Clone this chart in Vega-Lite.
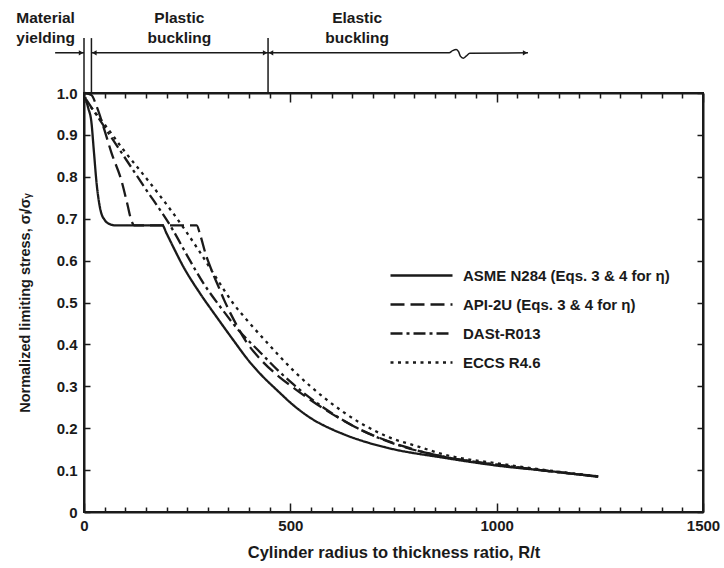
{
  "$schema": "https://vega.github.io/schema/vega-lite/v6.json",
  "width": 619,
  "height": 419,
  "autosize": {"type": "none"},
  "padding": {"left": 84, "top": 93, "right": 21, "bottom": 56},
  "background": "white",
  "config": {
    "view": {"stroke": "#1a1a1a", "strokeWidth": 2},
    "font": "Liberation Sans",
    "text": {"font": "Liberation Sans", "fontWeight": "bold", "fontSize": 15, "color": "#1a1a1a"}
  },
  "datasets": {
    "curves": [
      {"series": "ASME N284 (Eqs. 3 & 4 for η)", "rt": 3, "s": 0.99},
      {"series": "ASME N284 (Eqs. 3 & 4 for η)", "rt": 10, "s": 0.965},
      {"series": "ASME N284 (Eqs. 3 & 4 for η)", "rt": 18, "s": 0.93},
      {"series": "ASME N284 (Eqs. 3 & 4 for η)", "rt": 24, "s": 0.86},
      {"series": "ASME N284 (Eqs. 3 & 4 for η)", "rt": 31, "s": 0.78},
      {"series": "ASME N284 (Eqs. 3 & 4 for η)", "rt": 39, "s": 0.725},
      {"series": "ASME N284 (Eqs. 3 & 4 for η)", "rt": 50, "s": 0.697},
      {"series": "ASME N284 (Eqs. 3 & 4 for η)", "rt": 65, "s": 0.686},
      {"series": "ASME N284 (Eqs. 3 & 4 for η)", "rt": 75, "s": 0.684},
      {"series": "ASME N284 (Eqs. 3 & 4 for η)", "rt": 190, "s": 0.684},
      {"series": "ASME N284 (Eqs. 3 & 4 for η)", "rt": 200, "s": 0.665},
      {"series": "ASME N284 (Eqs. 3 & 4 for η)", "rt": 215, "s": 0.635},
      {"series": "ASME N284 (Eqs. 3 & 4 for η)", "rt": 241, "s": 0.585},
      {"series": "ASME N284 (Eqs. 3 & 4 for η)", "rt": 281, "s": 0.522},
      {"series": "ASME N284 (Eqs. 3 & 4 for η)", "rt": 321, "s": 0.466},
      {"series": "ASME N284 (Eqs. 3 & 4 for η)", "rt": 362, "s": 0.41},
      {"series": "ASME N284 (Eqs. 3 & 4 for η)", "rt": 400, "s": 0.36},
      {"series": "ASME N284 (Eqs. 3 & 4 for η)", "rt": 424, "s": 0.333},
      {"series": "ASME N284 (Eqs. 3 & 4 for η)", "rt": 475, "s": 0.284},
      {"series": "ASME N284 (Eqs. 3 & 4 for η)", "rt": 499, "s": 0.262},
      {"series": "ASME N284 (Eqs. 3 & 4 for η)", "rt": 548, "s": 0.225},
      {"series": "ASME N284 (Eqs. 3 & 4 for η)", "rt": 604, "s": 0.196},
      {"series": "ASME N284 (Eqs. 3 & 4 for η)", "rt": 628, "s": 0.186},
      {"series": "ASME N284 (Eqs. 3 & 4 for η)", "rt": 690, "s": 0.165},
      {"series": "ASME N284 (Eqs. 3 & 4 for η)", "rt": 749, "s": 0.15},
      {"series": "ASME N284 (Eqs. 3 & 4 for η)", "rt": 862, "s": 0.131},
      {"series": "ASME N284 (Eqs. 3 & 4 for η)", "rt": 1024, "s": 0.108},
      {"series": "ASME N284 (Eqs. 3 & 4 for η)", "rt": 1105, "s": 0.1},
      {"series": "ASME N284 (Eqs. 3 & 4 for η)", "rt": 1246, "s": 0.084},

      {"series": "API-2U (Eqs. 3 & 4 for η)", "rt": 3, "s": 1.0},
      {"series": "API-2U (Eqs. 3 & 4 for η)", "rt": 18, "s": 0.995},
      {"series": "API-2U (Eqs. 3 & 4 for η)", "rt": 31, "s": 0.967},
      {"series": "API-2U (Eqs. 3 & 4 for η)", "rt": 50, "s": 0.91},
      {"series": "API-2U (Eqs. 3 & 4 for η)", "rt": 67, "s": 0.856},
      {"series": "API-2U (Eqs. 3 & 4 for η)", "rt": 91, "s": 0.79},
      {"series": "API-2U (Eqs. 3 & 4 for η)", "rt": 105, "s": 0.735},
      {"series": "API-2U (Eqs. 3 & 4 for η)", "rt": 115, "s": 0.695},
      {"series": "API-2U (Eqs. 3 & 4 for η)", "rt": 122, "s": 0.684},
      {"series": "API-2U (Eqs. 3 & 4 for η)", "rt": 273, "s": 0.684},
      {"series": "API-2U (Eqs. 3 & 4 for η)", "rt": 282, "s": 0.66},
      {"series": "API-2U (Eqs. 3 & 4 for η)", "rt": 295, "s": 0.615},
      {"series": "API-2U (Eqs. 3 & 4 for η)", "rt": 310, "s": 0.575},
      {"series": "API-2U (Eqs. 3 & 4 for η)", "rt": 325, "s": 0.54},
      {"series": "API-2U (Eqs. 3 & 4 for η)", "rt": 340, "s": 0.505},
      {"series": "API-2U (Eqs. 3 & 4 for η)", "rt": 365, "s": 0.455},
      {"series": "API-2U (Eqs. 3 & 4 for η)", "rt": 394, "s": 0.405},
      {"series": "API-2U (Eqs. 3 & 4 for η)", "rt": 430, "s": 0.362},
      {"series": "API-2U (Eqs. 3 & 4 for η)", "rt": 470, "s": 0.325},
      {"series": "API-2U (Eqs. 3 & 4 for η)", "rt": 507, "s": 0.297},
      {"series": "API-2U (Eqs. 3 & 4 for η)", "rt": 588, "s": 0.242},
      {"series": "API-2U (Eqs. 3 & 4 for η)", "rt": 669, "s": 0.197},
      {"series": "API-2U (Eqs. 3 & 4 for η)", "rt": 773, "s": 0.157},
      {"series": "API-2U (Eqs. 3 & 4 for η)", "rt": 862, "s": 0.134},
      {"series": "API-2U (Eqs. 3 & 4 for η)", "rt": 1024, "s": 0.11},
      {"series": "API-2U (Eqs. 3 & 4 for η)", "rt": 1246, "s": 0.085},

      {"series": "DASt-R013", "rt": 5, "s": 0.985},
      {"series": "DASt-R013", "rt": 63, "s": 0.899},
      {"series": "DASt-R013", "rt": 144, "s": 0.779},
      {"series": "DASt-R013", "rt": 216, "s": 0.672},
      {"series": "DASt-R013", "rt": 250, "s": 0.612},
      {"series": "DASt-R013", "rt": 290, "s": 0.545},
      {"series": "DASt-R013", "rt": 330, "s": 0.49},
      {"series": "DASt-R013", "rt": 378, "s": 0.43},
      {"series": "DASt-R013", "rt": 426, "s": 0.382},
      {"series": "DASt-R013", "rt": 470, "s": 0.338},
      {"series": "DASt-R013", "rt": 507, "s": 0.305},
      {"series": "DASt-R013", "rt": 588, "s": 0.244},
      {"series": "DASt-R013", "rt": 669, "s": 0.197},
      {"series": "DASt-R013", "rt": 773, "s": 0.156},
      {"series": "DASt-R013", "rt": 862, "s": 0.134},
      {"series": "DASt-R013", "rt": 1024, "s": 0.11},
      {"series": "DASt-R013", "rt": 1246, "s": 0.085},

      {"series": "ECCS R4.6", "rt": 5, "s": 0.98},
      {"series": "ECCS R4.6", "rt": 50, "s": 0.925},
      {"series": "ECCS R4.6", "rt": 95, "s": 0.865},
      {"series": "ECCS R4.6", "rt": 140, "s": 0.81},
      {"series": "ECCS R4.6", "rt": 184, "s": 0.755},
      {"series": "ECCS R4.6", "rt": 240, "s": 0.68},
      {"series": "ECCS R4.6", "rt": 281, "s": 0.62},
      {"series": "ECCS R4.6", "rt": 321, "s": 0.558},
      {"series": "ECCS R4.6", "rt": 360, "s": 0.5},
      {"series": "ECCS R4.6", "rt": 402, "s": 0.45},
      {"series": "ECCS R4.6", "rt": 443, "s": 0.405},
      {"series": "ECCS R4.6", "rt": 507, "s": 0.338},
      {"series": "ECCS R4.6", "rt": 588, "s": 0.268},
      {"series": "ECCS R4.6", "rt": 669, "s": 0.213},
      {"series": "ECCS R4.6", "rt": 740, "s": 0.178},
      {"series": "ECCS R4.6", "rt": 814, "s": 0.155},
      {"series": "ECCS R4.6", "rt": 862, "s": 0.14},
      {"series": "ECCS R4.6", "rt": 1024, "s": 0.113},
      {"series": "ECCS R4.6", "rt": 1246, "s": 0.085}
    ],
    "bounds": [
      {"rt": 0, "s": 1.0, "s2": 1.131},
      {"rt": 18, "s": 1.0, "s2": 1.131},
      {"rt": 446, "s": 1.0, "s2": 1.131}
    ],
    "arrows": [
      {"seg": "m", "rt": -70, "s": 1.096},
      {"seg": "m", "rt": 0, "s": 1.096},
      {"seg": "p", "rt": 18, "s": 1.096},
      {"seg": "p", "rt": 446, "s": 1.096},
      {"seg": "e", "rt": 446, "s": 1.096},
      {"seg": "e", "rt": 885, "s": 1.096},
      {"seg": "e", "rt": 893, "s": 1.101},
      {"seg": "e", "rt": 902, "s": 1.104},
      {"seg": "e", "rt": 908, "s": 1.098},
      {"seg": "e", "rt": 912, "s": 1.088},
      {"seg": "e", "rt": 919, "s": 1.083},
      {"seg": "e", "rt": 926, "s": 1.088},
      {"seg": "e", "rt": 935, "s": 1.095},
      {"seg": "e", "rt": 1076, "s": 1.096}
    ],
    "heads": [
      {"dir": "R", "rt": -7, "s": 1.096},
      {"dir": "L", "rt": 25, "s": 1.096},
      {"dir": "R", "rt": 439, "s": 1.096},
      {"dir": "L", "rt": 453, "s": 1.096},
      {"dir": "R", "rt": 1069, "s": 1.096}
    ],
    "labelsRight": [
      {"rt": -22, "s": 1.179, "t": "Material"},
      {"rt": -22, "s": 1.131, "t": "yielding"}
    ],
    "labelsCenter": [
      {"rt": 231, "s": 1.179, "t": "Plastic"},
      {"rt": 231, "s": 1.131, "t": "buckling"},
      {"rt": 662, "s": 1.179, "t": "Elastic"},
      {"rt": 662, "s": 1.131, "t": "buckling"}
    ]
  },
  "layer": [
    {
      "data": {"name": "curves"},
      "mark": {"type": "line", "color": "#1a1a1a", "strokeWidth": 2.3, "interpolate": "monotone"},
      "encoding": {
        "x": {
          "field": "rt", "type": "quantitative",
          "scale": {"domain": [0, 1500], "nice": false, "zero": false},
          "axis": {
            "orient": "bottom",
            "values": [0,50,100,150,200,250,300,350,400,450,500,550,600,650,700,750,800,850,900,950,1000,1050,1100,1150,1200,1250,1300,1350,1400,1450,1500],
            "tickSize": {"condition": {"test": "datum.value % 500 === 0", "value": -9}, "value": -5},
            "tickColor": "#1a1a1a", "tickWidth": 1.5,
            "domainColor": "#1a1a1a", "domainWidth": 2,
            "grid": false,
            "labelExpr": "datum.value % 500 === 0 ? format(datum.value, 'd') : ''",
            "labelOverlap": false, "labelFlush": false,
            "labelFont": "Liberation Sans", "labelFontWeight": "bold", "labelFontSize": 15, "labelColor": "#1a1a1a",
            "labelPadding": 15,
            "title": "Cylinder radius to thickness ratio, R/t",
            "titleFont": "Liberation Sans", "titleFontWeight": "bold", "titleFontSize": 16.5, "titleColor": "#1a1a1a",
            "titlePadding": 7
          }
        },
        "y": {
          "field": "s", "type": "quantitative",
          "scale": {"domain": [0, 1], "nice": false},
          "axis": {
            "orient": "left",
            "values": [0,0.1,0.2,0.3,0.4,0.5,0.6,0.7,0.8,0.9,1.0],
            "tickSize": -6, "tickColor": "#1a1a1a", "tickWidth": 1.5,
            "domainColor": "#1a1a1a", "domainWidth": 2,
            "grid": false,
            "labelExpr": "datum.value === 0 ? '0' : format(datum.value, '.1f')",
            "labelFont": "Liberation Sans", "labelFontWeight": "bold", "labelFontSize": 15, "labelColor": "#1a1a1a",
            "labelPadding": 13,
            "title": "Normalized limiting stress, σₗ/σᵧ",
            "titleFont": "Liberation Sans", "titleFontWeight": "bold", "titleFontSize": 14.5, "titleColor": "#1a1a1a",
            "titlePadding": 24
          }
        },
        "strokeDash": {
          "field": "series", "type": "nominal",
          "scale": {
            "domain": ["ASME N284 (Eqs. 3 & 4 for η)", "API-2U (Eqs. 3 & 4 for η)", "DASt-R013", "ECCS R4.6"],
            "range": [[1, 0], [14, 6], [12, 4, 3, 4], [3, 4.5]]
          },
          "legend": {
            "orient": "none", "legendX": 305, "legendY": 168,
            "title": null,
            "symbolType": "stroke", "symbolSize": 3844, "symbolStrokeWidth": 2.3,
            "symbolStrokeColor": "#1a1a1a",
            "clipHeight": 29, "rowPadding": 0, "padding": 0,
            "labelOffset": 9,
            "labelFont": "Liberation Sans", "labelFontWeight": "bold", "labelFontSize": 15, "labelColor": "#1a1a1a",
            "labelLimit": 400
          }
        }
      }
    },
    {
      "data": {"name": "bounds"},
      "mark": {"type": "rule", "color": "#1a1a1a", "strokeWidth": 1.5},
      "encoding": {
        "x": {
          "field": "rt", "type": "quantitative",
          "scale": {"domain": [0, 1500], "nice": false, "zero": false},
          "axis": {
            "orient": "top",
            "values": [0,50,100,150,200,250,300,350,400,450,500,550,600,650,700,750,800,850,900,950,1000,1050,1100,1150,1200,1250,1300,1350,1400,1450,1500],
            "tickSize": {"condition": {"test": "datum.value % 500 === 0", "value": -9}, "value": -5},
            "tickColor": "#1a1a1a", "tickWidth": 1.5,
            "domainColor": "#1a1a1a", "domainWidth": 2,
            "labels": false, "title": null, "grid": false
          }
        },
        "y": {
          "field": "s", "type": "quantitative",
          "scale": {"domain": [0, 1], "nice": false},
          "axis": {
            "orient": "right",
            "values": [0,0.1,0.2,0.3,0.4,0.5,0.6,0.7,0.8,0.9,1.0],
            "tickSize": -6, "tickColor": "#1a1a1a", "tickWidth": 1.5,
            "domainColor": "#1a1a1a", "domainWidth": 2,
            "labels": false, "title": null, "grid": false
          }
        },
        "y2": {"field": "s2"}
      }
    },
    {
      "data": {"name": "arrows"},
      "mark": {"type": "line", "color": "#1a1a1a", "strokeWidth": 1.5, "interpolate": "monotone"},
      "encoding": {
        "x": {"field": "rt", "type": "quantitative", "scale": {"domain": [0, 1500], "nice": false, "zero": false}, "axis": null},
        "y": {"field": "s", "type": "quantitative", "scale": {"domain": [0, 1], "nice": false}, "axis": null},
        "detail": {"field": "seg"}
      }
    },
    {
      "data": {"name": "heads"},
      "mark": {"type": "point", "filled": true, "color": "#1a1a1a", "size": 28, "opacity": 1},
      "encoding": {
        "x": {"field": "rt", "type": "quantitative", "scale": {"domain": [0, 1500], "nice": false, "zero": false}, "axis": null},
        "y": {"field": "s", "type": "quantitative", "scale": {"domain": [0, 1], "nice": false}, "axis": null},
        "shape": {"field": "dir", "type": "nominal", "scale": {"domain": ["L", "R"], "range": ["triangle-left", "triangle-right"]}, "legend": null}
      }
    },
    {
      "data": {"name": "labelsRight"},
      "mark": {"type": "text", "align": "right", "baseline": "middle", "fontSize": 15.5, "fontWeight": "bold", "font": "Liberation Sans", "color": "#1a1a1a"},
      "encoding": {
        "x": {"field": "rt", "type": "quantitative", "scale": {"domain": [0, 1500], "nice": false, "zero": false}, "axis": null},
        "y": {"field": "s", "type": "quantitative", "scale": {"domain": [0, 1], "nice": false}, "axis": null},
        "text": {"field": "t"}
      }
    },
    {
      "data": {"name": "labelsCenter"},
      "mark": {"type": "text", "align": "center", "baseline": "middle", "fontSize": 15.5, "fontWeight": "bold", "font": "Liberation Sans", "color": "#1a1a1a"},
      "encoding": {
        "x": {"field": "rt", "type": "quantitative", "scale": {"domain": [0, 1500], "nice": false, "zero": false}, "axis": null},
        "y": {"field": "s", "type": "quantitative", "scale": {"domain": [0, 1], "nice": false}, "axis": null},
        "text": {"field": "t"}
      }
    }
  ],
  "resolve": {"axis": {"x": "independent", "y": "independent"}}
}
